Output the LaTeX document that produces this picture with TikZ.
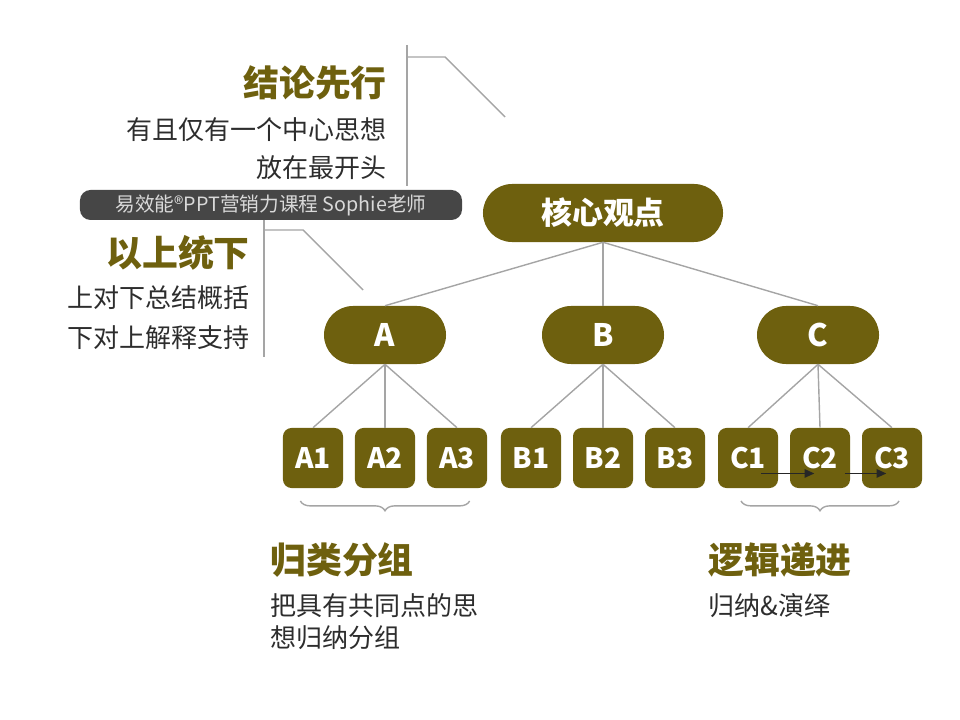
\documentclass[tikz,border=0pt]{standalone}
\usepackage{fontspec}
\setmainfont{Noto Sans CJK SC}
\usetikzlibrary{positioning,decorations.pathreplacing,arrows.meta}
\definecolor{olive}{RGB}{110,96,14}
\definecolor{txtgray}{RGB}{45,45,45}
\definecolor{lgray}{RGB}{165,165,165}
\definecolor{banner}{RGB}{70,70,70}

\begin{document}
\begin{tikzpicture}[x=0.025cm,y=-0.025cm,
  pill/.style={fill=olive,rounded corners=29*0.7113pt,minimum height=58*0.7113pt,text=white,font=\fontsize{22}{24}\selectfont\bfseries,inner sep=0pt},
  leaf/.style={fill=olive,rounded corners=6pt,minimum width=60*0.7113pt,minimum height=60*0.7113pt,text=white,font=\fontsize{20}{22}\selectfont\bfseries,inner sep=0pt},
  head/.style={text=olive,font=\fontsize{25.5}{28}\selectfont\bfseries,inner sep=0pt},
  body/.style={text=txtgray,font=\fontsize{18.5}{20}\selectfont,inner sep=0pt},
  link/.style={lgray,line width=1pt},
  brace/.style={lgray,line width=1pt,decorate,decoration={brace,mirror,amplitude=7pt}}]
 \useasboundingbox (0,0) rectangle (960,720);

 % the tree
 \node[pill,minimum width=240*0.7113pt] (root) at (603,213) {核心观点};
 \node[pill,minimum width=122*0.7113pt] (A) at (385,335) {A};
 \node[pill,minimum width=122*0.7113pt] (B) at (603,335) {B};
 \node[pill,minimum width=122*0.7113pt] (C) at (818,335) {C};
 \foreach \n/\x in {A1/313,A2/385,A3/457,B1/531,B2/603,B3/675,C1/748,C2/820,C3/892}
  { \node[leaf] (\n) at (\x,458) {\n}; }

 \foreach \p in {A,B,C} { \draw[link] (root.south) -- (\p.north); }
 \foreach \p in {A,B,C} {
  \foreach \i in {1,2,3} { \draw[link] (\p.south) -- (\p\i.north); }
 }
 \draw[-{Stealth[length=7pt,width=6pt,inset=0pt]},black!85,line width=1.3pt] ([xshift=-12pt,yshift=-11pt]C1.east) -- ([xshift=-4pt,yshift=-11pt]C2.center);
 \draw[-{Stealth[length=7pt,width=6pt,inset=0pt]},black!85,line width=1.3pt] ([xshift=-4pt,yshift=-11pt]C2.east) -- ([xshift=-4pt,yshift=-11pt]C3.center);

 % braces
 \draw[brace] ([xshift=-9pt,yshift=-9pt]A1.south) -- ([xshift=9pt,yshift=-9pt]A3.south);
 \draw[brace] ([xshift=-5pt,yshift=-9pt]C1.south) -- ([xshift=5pt,yshift=-9pt]C3.south);

 % top left notes
 \node[head,anchor=east] (t1) at (387,83) {结论先行};
 \node[body,anchor=east] (t1a) at (387,130) {有且仅有一个中心思想};
 \node[body,anchor=east] (t1b) at (387,168) {放在最开头};
 \draw[link] (407,45) -- (407,186);
 \draw[link] (407,57) -- (445,57) -- (505,117);

 \node[fill=banner,rounded corners=7.5pt,minimum width=382*0.7113pt,minimum height=30*0.7113pt,text=white!85!black,font=\fontsize{14}{15}\selectfont,inner sep=0pt] (ad) at (271,205) {易效能®PPT营销力课程 Sophie老师};

 \node[head,anchor=east] (t2) at (250,253) {以上统下};
 \node[body,anchor=east] (t2a) at (250,298) {上对下总结概括};
 \node[body,anchor=east] (t2b) at (250,338) {下对上解释支持};
 \draw[link] (264,220) -- (264,357);
 \draw[link] (264,230) -- (303,230) -- (363,290);

 % bottom notes
 \node[head,anchor=west] (t3) at (270,560) {归类分组};
 \node[body,anchor=west] (t3a) at (270,606) {把具有共同点的思};
 \node[body,anchor=west] (t3b) at (270,638) {想归纳分组};
 \node[head,anchor=west] (t4) at (708,560) {逻辑递进};
 \node[body,anchor=west] (t4a) at (708,606) {归纳\&演绎};
\end{tikzpicture}
\end{document}
